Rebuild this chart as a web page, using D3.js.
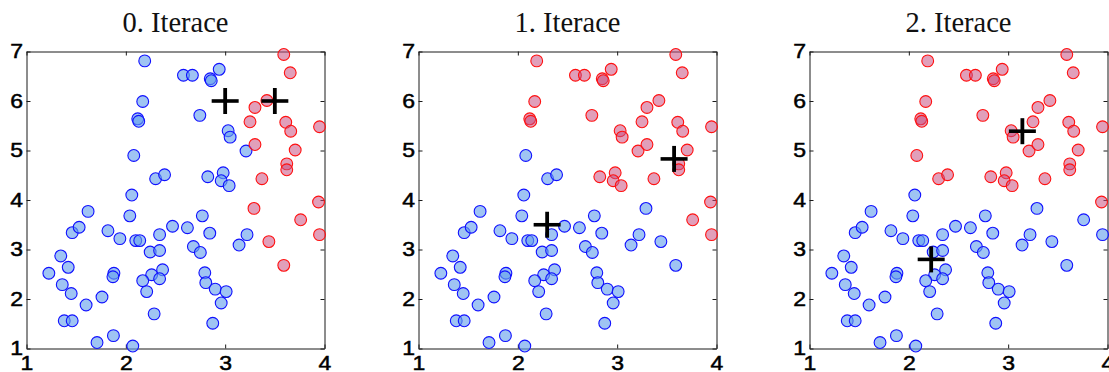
<!DOCTYPE html>
<html>
<head>
<meta charset="utf-8">
<script src="https://cdn.jsdelivr.net/npm/d3@7"></script>
<style>
  body { margin: 0; background: #fff; }
  svg { display: block; }
</style>
</head>
<body>
<svg id="chart" width="1109" height="372"></svg>
<script>
// point coordinates (same set in every iteration)
const px = [
  2.19, 2.58, 2.67, 2.85, 2.86, 2.94, 2.17, 2.12, 2.13, 2.745, 3.03, 3.05, 3.21, 2.08, 2.30, 2.39, 2.825, 2.98, 2.96, 3.04, 2.06,
  3.59, 3.655, 3.30, 3.42, 3.25, 3.61, 3.66, 3.95, 3.705, 3.30, 3.62, 3.62, 3.37, 3.94, 3.29, 3.76, 3.44, 3.95, 3.59,
  1.62, 2.04, 2.77, 1.46, 1.53, 1.82, 1.94, 2.10, 2.14, 2.34, 2.47, 2.62, 2.845, 3.14, 3.22, 1.345, 2.245, 2.34, 2.68, 2.75,
  1.225, 1.42, 1.88, 1.87, 2.26, 2.37, 2.34, 2.17, 2.21, 2.795, 2.805, 1.36, 1.45, 1.60, 1.76, 2.90, 3.01, 2.96,
  1.38, 1.46, 2.285, 2.875, 1.71, 1.875, 2.07
];
const py = [
  6.81, 6.52, 6.52, 6.45, 6.41, 6.64, 5.99, 5.64, 5.59, 5.71, 5.40, 5.27, 4.99, 4.90, 4.43, 4.51, 4.47, 4.55, 4.39, 4.29, 4.10,
  6.94, 6.57, 5.87, 6.01, 5.58, 5.57, 5.39, 5.48, 5.01, 5.12, 4.73, 4.61, 4.43, 3.96, 3.83, 3.60, 3.16, 3.30, 2.68,
  3.77, 3.68, 3.68, 3.34, 3.45, 3.38, 3.22, 3.18, 3.18, 3.30, 3.47, 3.44, 3.33, 3.09, 3.30, 2.87, 2.95, 2.98, 3.06, 2.94,
  2.52, 2.64, 2.52, 2.45, 2.49, 2.59, 2.41, 2.37, 2.15, 2.53, 2.33, 2.29, 2.11, 1.88, 2.04, 2.20, 2.15, 1.92,
  1.56, 1.56, 1.70, 1.51, 1.12, 1.26, 1.05
];

// cluster of each point per iteration (0 = blue, 1 = red)
const cls0 = "000000000000000000000" + "1111111111111111111" + "0".repeat(20) + "0".repeat(18) + "0000000";
const cls1 = "111111111111100011110" + "1111111111111101010" + "0".repeat(20) + "0".repeat(18) + "0000000";
const cls2 = "111111111111111111110" + "1111111111111100000" + "0".repeat(20) + "0".repeat(18) + "0000000";
const labels = [cls0, cls1, cls2];

// centroids per iteration
const centX = [[3.0, 3.5], [2.295, 3.573], [2.225, 3.143]];
const centY = [[6.0, 6.0], [3.50, 4.83], [2.80, 5.39]];

const titles = ["0. Iterace", "1. Iterace", "2. Iterace"];
const xTicks = [1, 2, 3, 4];
const yTicks = [1, 2, 3, 4, 5, 6, 7];

const W = 298, H = 297;
const fills = ["rgba(100,160,235,0.62)", "rgba(200,80,130,0.55)"];
const strokes = ["#1010ff", "#ff1010"];

const svg = d3.select("#chart");

const x = d3.scaleLinear().domain([1, 4]).range([0, W]);
const y = d3.scaleLinear().domain([1, 7]).range([H, 0]);

titles.forEach((title, i) => {
  const left = Math.round(26 + i * 391.7) + 0.5;
  const g = svg.append("g").attr("transform", `translate(${left},51.5)`);

  svg.append("text")
    .attr("x", left + W / 2)
    .attr("y", 32)
    .attr("text-anchor", "middle")
    .style("font-family", "'Liberation Serif', 'Times New Roman', serif")
    .style("font-size", "28.5px")
    .style("fill", "#111")
    .text(title);

  // box axes with inward ticks
  const styleAxis = (a) => {
    a.attr("font-family", "'Liberation Sans', Arial, sans-serif").attr("font-size", 20);
    a.selectAll("path, line").attr("stroke", "#1a1a1a").attr("stroke-width", 1);
    a.selectAll("text")
      .attr("fill", "#000")
      .attr("stroke", "#000")
      .attr("stroke-width", 0.5)
      .attr("transform", "scale(1.15,1)");
  };
  g.append("g").attr("transform", `translate(0,${H})`)
    .call(d3.axisBottom(x).tickValues(xTicks).tickFormat(d3.format("d")).tickSizeInner(-4).tickSizeOuter(0).tickPadding(7))
    .call(styleAxis);
  g.append("g")
    .call(d3.axisLeft(y).tickValues(yTicks).tickFormat(d3.format("d")).tickSizeInner(-4).tickSizeOuter(0).tickPadding(3))
    .call(styleAxis);
  g.append("g")
    .call(d3.axisTop(x).tickValues(xTicks).tickFormat("").tickSizeInner(-4).tickSizeOuter(0))
    .call(styleAxis);
  g.append("g").attr("transform", `translate(${W},0)`)
    .call(d3.axisRight(y).tickValues(yTicks).tickFormat("").tickSizeInner(-4).tickSizeOuter(0))
    .call(styleAxis);

  const lab = labels[i];
  g.append("g")
    .selectAll("circle")
    .data(px.map((v, k) => ({ x: v, y: py[k], c: +lab[k] })))
    .enter()
    .append("circle")
    .attr("cx", (d) => x(d.x))
    .attr("cy", (d) => y(d.y))
    .attr("r", 5.9)
    .attr("fill", (d) => fills[d.c])
    .attr("stroke", (d) => strokes[d.c])
    .attr("stroke-width", 1.1);

  const cents = centX[i].map((v, k) => ({ x: v, y: centY[i][k] }));
  const plus = g.append("g").selectAll("g").data(cents).enter().append("g")
    .attr("transform", (d) => `translate(${x(d.x)},${y(d.y)})`);
  plus.append("line").attr("x1", -13.5).attr("x2", 13.5).attr("stroke", "#000").attr("stroke-width", 3.6);
  plus.append("line").attr("y1", -13).attr("y2", 13).attr("stroke", "#000").attr("stroke-width", 3.8);
});
</script>
</body>
</html>
